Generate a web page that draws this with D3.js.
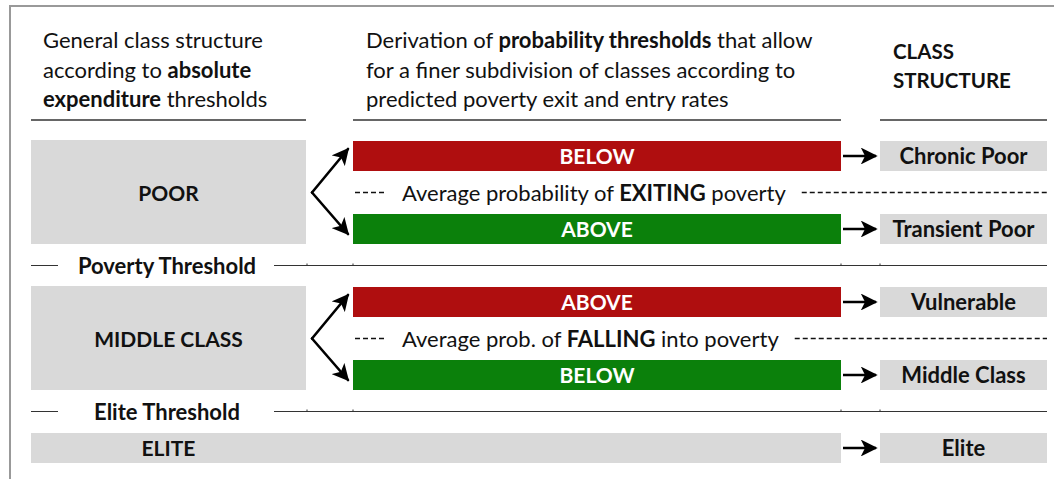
<!DOCTYPE html>
<html>
<head>
<meta charset="utf-8">
<script src="https://cdn.jsdelivr.net/npm/d3@7"></script>
<style>
  body { margin: 0; background: #fff; }
  text { font-family: Lato, "Open Sans", sans-serif; }
</style>
</head>
<body>
<div id="chart"></div>
<script>
// header texts, each line is a list of [text, bold]
var headLeft = [
	[["General class structure", false]],
	[["according to ", false], ["absolute", true]],
	[["expenditure", true], [" thresholds", false]]
];
var headMid = [
	[["Derivation of ", false], ["probability thresholds", true], [" that allow", false]],
	[["for a finer subdivision of classes according to", false]],
	[["predicted poverty exit and entry rates", false]]
];
var headRight = ["CLASS", "STRUCTURE"];

// rows of the diagram, top to bottom
var rows = ["r0", "r1", "r2", "t1", "r3", "r4", "r5", "t2", "r6"];

var classes = [
	{name: "POOR", from: "r0", to: "r2"},
	{name: "MIDDLE CLASS", from: "r3", to: "r5"}
];
var thresholds = [
	{name: "Poverty Threshold", row: "t1"},
	{name: "Elite Threshold", row: "t2"}
];
var splitLabels = ["BELOW", "ABOVE", "ABOVE", "BELOW"];
var splitRows = ["r0", "r2", "r3", "r5"];
var splitKinds = ["bad", "good", "bad", "good"];
var averages = [
	{row: "r1", parts: [["Average probability of ", false], ["EXITING", true], [" poverty", false]]},
	{row: "r4", parts: [["Average prob. of ", false], ["FALLING", true], [" into poverty", false]]}
];
var outcomes = ["Chronic Poor", "Transient Poor", "Vulnerable", "Middle Class", "Elite"];
var outcomeRows = ["r0", "r2", "r3", "r5", "r6"];
var eliteLabel = "ELITE";

var width = 1054, height = 479;
var colors = {bad: "#af0e0f", good: "#0b800b", box: "#d9d9d9"};
var fs = 22;

var y = d3.scalePoint()
	.domain(rows)
	.range([156, 448]);

// column extents
var col1 = [31, 306], col2 = [353, 841], col3 = [880, 1047];
var barH = 30;

var svg = d3.select("#chart")
	.append("svg")
	.attr("width", width)
	.attr("height", height);

var defs = svg.append("defs");
defs.append("marker")
	.attr("id", "head")
	.attr("viewBox", "0 0 10 10")
	.attr("refX", 9)
	.attr("refY", 5)
	.attr("markerWidth", 6.5)
	.attr("markerHeight", 6.5)
	.attr("markerUnits", "strokeWidth")
	.attr("orient", "auto")
	.append("path")
	.attr("d", "M0,0 L10,5 L0,10 L2.5,5 Z")
	.attr("fill", "#000");

// frame
svg.append("path")
	.attr("d", "M10," + height + " L10,6 L" + width + ",6")
	.attr("fill", "none")
	.attr("stroke", "#999")
	.attr("stroke-width", 2);

function richText(g, x, yy, parts, size, anchor) {
	var t = g.append("text")
		.attr("x", x)
		.attr("y", yy)
		.attr("font-size", size)
		.attr("text-anchor", anchor || "start")
		.attr("fill", "#111");
	parts.forEach(function(p) {
		t.append("tspan")
			.attr("font-weight", p[1] ? "bold" : "normal")
			.text(p[0]);
	});
	return t;
}

// headers
headLeft.forEach(function(line, i) {
	richText(svg, 43, 48 + i * 29.5, line, fs);
});
headMid.forEach(function(line, i) {
	richText(svg, 366, 48 + i * 29.5, line, fs);
});
headRight.forEach(function(line, i) {
	svg.append("text")
		.attr("x", 893)
		.attr("y", 59 + i * 28.5)
		.attr("font-size", 20.5)
		.attr("font-weight", "bold")
		.attr("fill", "#111")
		.text(line);
});
[col1, col2, col3].forEach(function(c) {
	svg.append("line")
		.attr("x1", c[0]).attr("x2", c[1])
		.attr("y1", 120).attr("y2", 120)
		.attr("stroke", "#333")
		.attr("stroke-width", 1.5);
});

// threshold lines
var th = svg.selectAll(".thresh")
	.data(thresholds)
	.enter()
	.append("g")
	.attr("class", "thresh");
th.append("line")
	.attr("x1", col1[0]).attr("x2", col3[1])
	.attr("y1", function(d) { return y(d.row); })
	.attr("y2", function(d) { return y(d.row); })
	.attr("stroke", "#333")
	.attr("stroke-width", 1.2);
th.append("rect")
	.attr("x", 58).attr("width", 216)
	.attr("y", function(d) { return y(d.row) - 12; })
	.attr("height", 24)
	.attr("fill", "#fff");
th.append("text")
	.attr("x", 167)
	.attr("y", function(d) { return y(d.row) + 8; })
	.attr("text-anchor", "middle")
	.attr("font-size", fs)
	.attr("font-weight", "bold")
	.attr("fill", "#111")
	.text(function(d) { return d.name; });
[307, 353, 841, 880].forEach(function(tx) {
	thresholds.forEach(function(d) {
		svg.append("line")
			.attr("x1", tx).attr("x2", tx)
			.attr("y1", y(d.row) - 2).attr("y2", y(d.row))
			.attr("stroke", "#333");
	});
});

// class boxes
var cb = svg.selectAll(".cls")
	.data(classes)
	.enter()
	.append("g")
	.attr("class", "cls");
cb.append("rect")
	.attr("x", col1[0])
	.attr("width", col1[1] - col1[0])
	.attr("y", function(d) { return y(d.from) - barH / 2 - 1; })
	.attr("height", function(d) { return y(d.to) - y(d.from) + barH + 1; })
	.attr("fill", colors.box);
cb.append("text")
	.attr("x", (col1[0] + col1[1]) / 2)
	.attr("y", function(d) { return (y(d.from) + y(d.to)) / 2 + 8; })
	.attr("text-anchor", "middle")
	.attr("font-size", 21)
	.attr("font-weight", "bold")
	.attr("fill", "#111")
	.text(function(d) { return d.name; });

// elite strip
svg.append("rect")
	.attr("x", col1[0])
	.attr("width", col2[1] - col1[0])
	.attr("y", y("r6") - barH / 2)
	.attr("height", barH)
	.attr("fill", colors.box);
svg.append("text")
	.attr("x", (col1[0] + col1[1]) / 2)
	.attr("y", y("r6") + 8)
	.attr("text-anchor", "middle")
	.attr("font-size", 21)
	.attr("font-weight", "bold")
	.attr("fill", "#111")
	.text(eliteLabel);

// split bars
splitLabels.forEach(function(lab, i) {
	var yy = y(splitRows[i]);
	svg.append("rect")
		.attr("x", col2[0])
		.attr("width", col2[1] - col2[0])
		.attr("y", yy - barH / 2)
		.attr("height", barH)
		.attr("fill", colors[splitKinds[i]]);
	svg.append("text")
		.attr("x", (col2[0] + col2[1]) / 2)
		.attr("y", yy + 8)
		.attr("text-anchor", "middle")
		.attr("font-size", 21)
		.attr("font-weight", "bold")
		.attr("fill", "#fff")
		.text(lab);
});

// fork arrows
classes.forEach(function(d) {
	var top = y(d.from), bot = y(d.to), mid = (top + bot) / 2;
	[top - 7, bot + 5].forEach(function(ty) {
		svg.append("line")
			.attr("x1", 312).attr("y1", mid)
			.attr("x2", 348).attr("y2", ty)
			.attr("stroke", "#000")
			.attr("stroke-width", 2.6)
			.attr("stroke-linecap", "round")
			.attr("marker-end", "url(#head)");
	});
});

// average rows
averages.forEach(function(d) {
	var yy = y(d.row);
	svg.append("line")
		.attr("x1", 355).attr("x2", 386)
		.attr("y1", yy).attr("y2", yy)
		.attr("stroke", "#111")
		.attr("stroke-width", 1.5)
		.attr("stroke-dasharray", "5,3");
	var t = richText(svg, 402, yy + 8, d.parts, fs);
	var w = t.node().getComputedTextLength();
	svg.append("line")
		.attr("x1", 402 + w + 16).attr("x2", col3[1])
		.attr("y1", yy).attr("y2", yy)
		.attr("stroke", "#111")
		.attr("stroke-width", 1.5)
		.attr("stroke-dasharray", "5,3");
});

// outcome arrows and boxes
outcomes.forEach(function(o, i) {
	var yy = y(outcomeRows[i]);
	svg.append("line")
		.attr("x1", 843).attr("x2", 876)
		.attr("y1", yy).attr("y2", yy)
		.attr("stroke", "#000")
		.attr("stroke-width", 2.6)
		.attr("marker-end", "url(#head)");
	svg.append("rect")
		.attr("x", col3[0])
		.attr("width", col3[1] - col3[0])
		.attr("y", yy - barH / 2)
		.attr("height", barH)
		.attr("fill", colors.box);
	svg.append("text")
		.attr("x", (col3[0] + col3[1]) / 2)
		.attr("y", yy + 8)
		.attr("text-anchor", "middle")
		.attr("font-size", fs)
		.attr("font-weight", "bold")
		.attr("fill", "#111")
		.text(o);
});
</script>
</body>
</html>
